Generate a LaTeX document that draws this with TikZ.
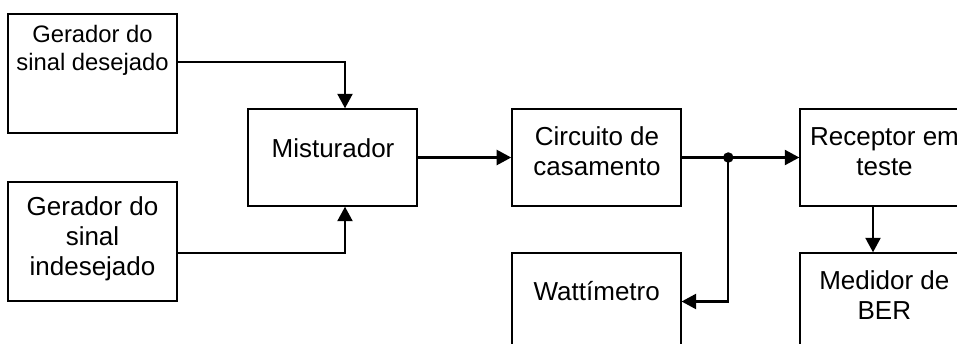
\documentclass[tikz,border=0pt]{standalone}
\usepackage{fontspec}
\setmainfont{Liberation Sans}
\usetikzlibrary{arrows.meta}
\begin{document}
\begin{tikzpicture}[x=1pt,y=-1pt,
  blk/.style={draw,line width=2pt,minimum width=168.4pt,minimum height=96.4pt,inner sep=0pt},
  gblk/.style={blk,minimum height=119pt},
  txt/.style={inner sep=0pt,align=center,anchor=base,font=\fontsize{26}{30}\selectfont},
  stxt/.style={txt,font=\fontsize{23.8}{28}\selectfont},
  arr/.style={line width=2.3pt,-{Triangle[length=14.5pt,width=15pt]}},
  dotnode/.style={circle,fill,inner sep=0pt,minimum size=10.5pt}]
\useasboundingbox (0,0) rectangle (957,343);
\clip (0,0) rectangle (957,343);
% boxes
\node[gblk] (g1) at (92.5,73.7) {};
\node[gblk] (g2) at (92.5,241.5) {};
\node[blk] (mix) at (332.5,157.5) {};
\node[blk] (circ) at (596.4,157.5) {};
\node[blk] (rec) at (884.5,157.5) {};
\node[blk] (watt) at (596.4,301.5) {};
\node[blk] (med) at (884.5,301.5) {};
% texts (anchored at baseline of last line)
\node[stxt] (t1) at (92.5,70.4) {Gerador do\\sinal desejado};
\node[txt] (t2) at (92.5,275) {Gerador do\\sinal\\indesejado};
\node[txt] (t3) at (333,157.3) {Misturador};
\node[txt] (t4) at (597,175.3) {Circuito de\\casamento};
\node[txt] (t5) at (884.5,175.7) {Receptor em\\teste};
\node[txt] (t6) at (596.7,300) {Wattímetro};
\node[txt] (t7) at (884.3,319) {Medidor de\\BER};
% junction
\node[dotnode] (j) at (728.3,157.5) {};
% connectors
\draw[arr] ([yshift=12pt]g1.east) -| ([xshift=12.5pt]mix.north);
\draw[arr] ([yshift=-11.5pt]g2.east) -| ([xshift=12.5pt]mix.south);
\draw[arr] (mix.east) -- (circ.west);
\draw[line width=2.3pt] (circ.east) -- (j.center);
\draw[arr] (j.center) -- (rec.west);
\draw[arr] (j.center) |- (watt.east);
\draw[arr] ([xshift=-11.5pt]rec.south) -- ([xshift=-11.5pt]med.north);
\end{tikzpicture}
\end{document}
